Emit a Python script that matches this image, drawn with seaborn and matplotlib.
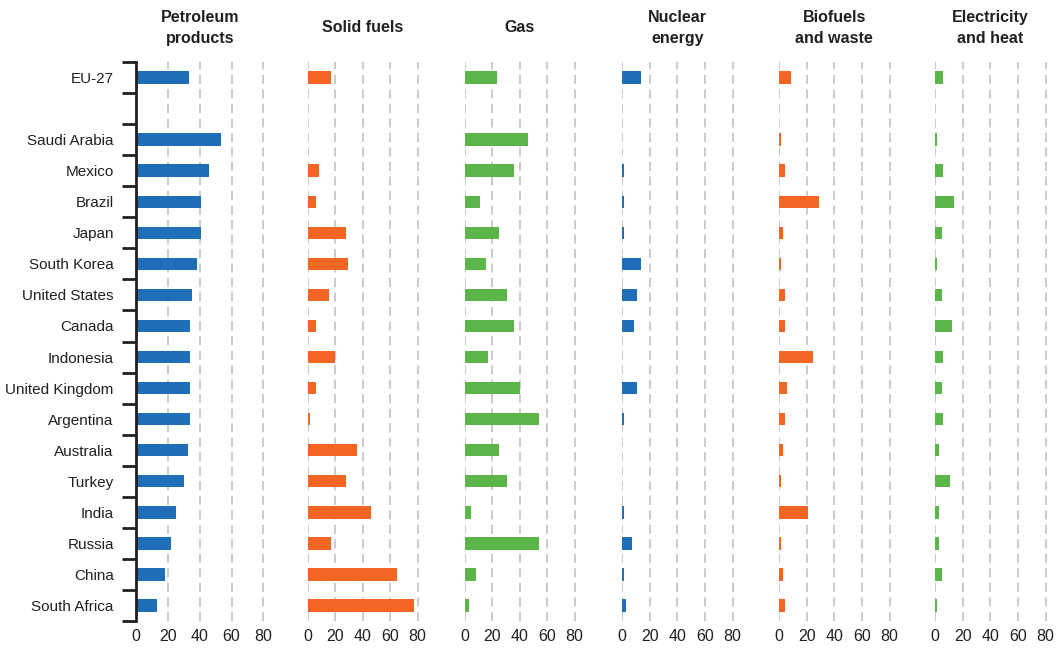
import numpy as np
import pandas as pd
import matplotlib
matplotlib.use("Agg")
import matplotlib.pyplot as plt
import seaborn as sns

# Data (share of final energy consumption by fuel, %)
COUNTRIES = [
    "EU-27", "", "Saudi Arabia", "Mexico", "Brazil", "Japan", "South Korea",
    "United States", "Canada", "Indonesia", "United Kingdom", "Argentina",
    "Australia", "Turkey", "India", "Russia", "China", "South Africa",
]
PETROLEUM = [33, None, 53.5, 46, 40.5, 40.5, 38, 35, 34, 34, 34, 34, 32.5, 30, 25, 22, 18, 13]
SOLID_FUELS = [17, None, 0, 8, 6, 28, 29.5, 15.5, 6, 20, 6, 1.5, 35.5, 28, 46, 17, 65, 77]
GAS = [23, None, 46, 35.5, 11, 25, 15.5, 31, 35.5, 17, 40, 54, 25, 31, 4.5, 54, 8, 3]
NUCLEAR = [13.5, None, 0, 1.5, 1.5, 1.5, 13.5, 10.5, 9, 0, 10.5, 1.5, 0, 0, 1.5, 7.5, 1.5, 3]
BIOFUELS = [9, None, 1.5, 4.5, 29, 3, 1.5, 4.5, 4.5, 24.5, 6, 4.5, 3, 1.5, 21, 1.5, 3, 4.5]
ELECTRICITY = [6, None, 1.5, 6, 14, 5, 1.5, 5, 12, 6, 5, 6, 3, 11, 3, 3, 5, 1.5]

TITLES = ["Petroleum\nproducts", "Solid fuels", "Gas", "Nuclear\nenergy",
          "Biofuels\nand waste", "Electricity\nand heat"]
SERIES = [PETROLEUM, SOLID_FUELS, GAS, NUCLEAR, BIOFUELS, ELECTRICITY]
X_TICKS = [0, 20, 40, 60, 80]

BLUE = "#1f6eb8"
ORANGE = "#f36523"
GREEN = "#5bb548"
COLORS = [BLUE, ORANGE, GREEN, BLUE, ORANGE, GREEN]

# Layout in pixels of a 1060x650 canvas: (left edge, width)
FIG_W, FIG_H = 1060, 650
PANELS = [(136, 129), (308, 111), (465, 111), (622, 112), (779, 112), (935, 112)]
TOP, BOTTOM = 62, 621
FONT = ["Liberation Sans", "DejaVu Sans"]
TEXT_COLOR = "#231f20"


def build_frame(values):
    """Long frame for one panel, skipping the empty spacer row."""
    df = pd.DataFrame({"country": COUNTRIES, "share": values})
    return df.dropna()


def draw_panel(fig, idx):
    left, width = PANELS[idx]
    ax = fig.add_axes([left / FIG_W, 1 - BOTTOM / FIG_H,
                       width / FIG_W, (BOTTOM - TOP) / FIG_H])
    df = build_frame(SERIES[idx])
    sns.barplot(data=df, x="share", y="country", order=COUNTRIES,
                color=COLORS[idx], width=0.4, linewidth=0, saturation=1,
                orient="h", ax=ax)
    ax.set_xlim(0, 81)
    ax.set_ylim(len(COUNTRIES) - 0.5, -0.5)
    ax.set_xlabel("")
    ax.set_ylabel("")

    ax.set_xticks(X_TICKS)
    ax.set_xticklabels([str(t) for t in X_TICKS])
    ax.tick_params(axis="x", length=0, pad=6, labelsize=11.5, colors=TEXT_COLOR)

    grid_ticks = X_TICKS if idx > 0 else X_TICKS[1:]
    for t in grid_ticks:
        ax.axvline(t, color="#bdbdbd", linewidth=1.1,
                   linestyle=(0, (6, 3.5)), zorder=0)

    for side in ["top", "right", "bottom"]:
        ax.spines[side].set_visible(False)

    if idx == 0:
        ax.spines["left"].set_linewidth(2)
        ax.spines["left"].set_color("#231f20")
        ax.set_yticks(np.arange(len(COUNTRIES)))
        ax.set_yticklabels(COUNTRIES)
        ax.set_yticks(np.arange(-0.5, len(COUNTRIES), 1), minor=True)
        ax.tick_params(axis="y", which="major", left=True, length=0, pad=16,
                       labelsize=11, colors=TEXT_COLOR)
        ax.tick_params(axis="y", which="minor", left=True, length=10, width=2,
                       color="#231f20", direction="out")
    else:
        ax.spines["left"].set_visible(False)
        ax.set_yticks([])

    fig.text((left + 80 * width / 81 / 2) / FIG_W, 1 - 28 / FIG_H, TITLES[idx],
             ha="center", va="center", fontsize=11.5, fontweight="bold",
             color=TEXT_COLOR, linespacing=1.5, family=FONT)
    return ax


def main():
    sns.set_theme(style="white")
    plt.rcParams["font.family"] = FONT
    fig = plt.figure(figsize=(FIG_W / 100, FIG_H / 100), dpi=100)
    for i in range(len(SERIES)):
        draw_panel(fig, i)
    fig.savefig("out.png", dpi=100, facecolor="white")


if __name__ == "__main__":
    main()
